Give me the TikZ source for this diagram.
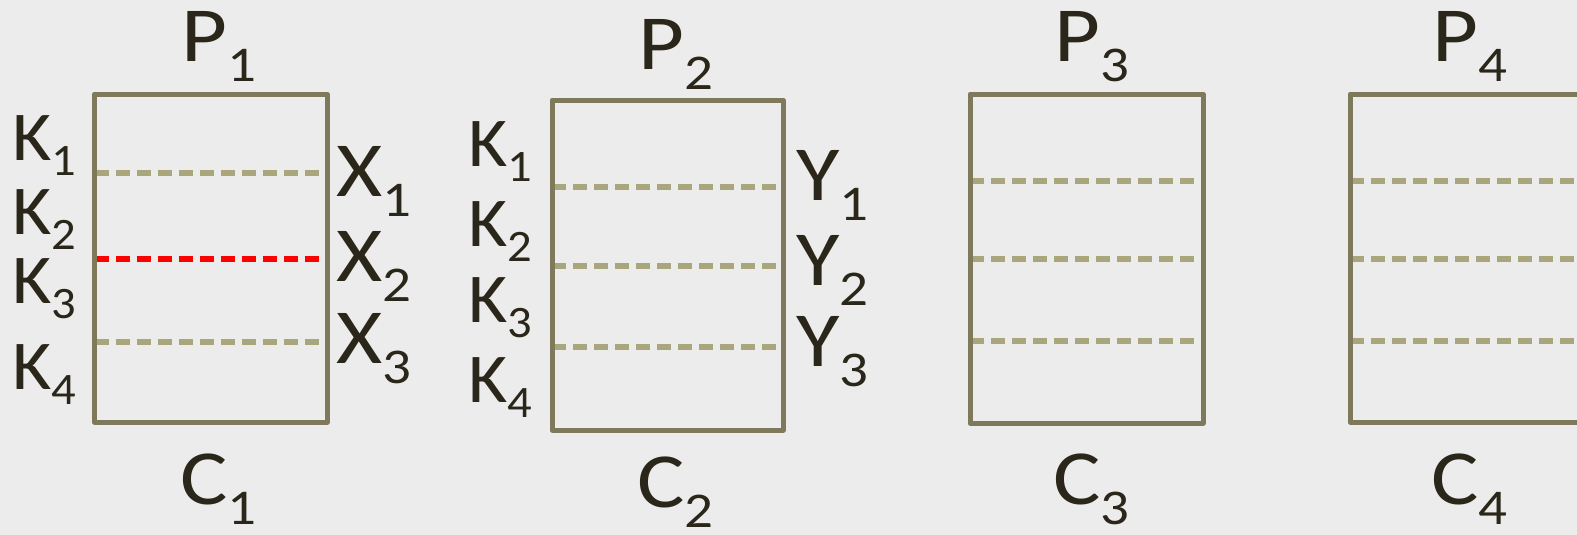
\documentclass[tikz,border=0pt]{standalone}
\usepackage{fontspec}
\usepackage{graphicx}
\setmainfont{Carlito}
\definecolor{bgc}{HTML}{ECECEC}
\definecolor{boxc}{HTML}{7D795A}
\definecolor{dashc}{HTML}{A9A57C}
\definecolor{txtc}{HTML}{2A2619}
\definecolor{redc}{HTML}{FF0000}
\newcommand{\mylab}[2]{\scalebox{1.14}[1]{\fontsize{78}{84}\selectfont #1\raisebox{-20pt}{\fontsize{50}{54}\selectfont #2}}}
\newcommand{\klab}[2]{\scalebox{1.08}[1]{\fontsize{70}{74}\selectfont #1\raisebox{-15pt}{\fontsize{45}{48}\selectfont #2}}}
\tikzset{
  boxst/.style={draw=boxc, line width=5pt, line join=round},
  sepline/.style={draw=dashc, line width=5.5pt, dash pattern=on 14pt off 7pt},
  redline/.style={draw=redc, line width=5.5pt, dash pattern=on 14pt off 7pt},
  lab/.style={inner sep=0pt, anchor=base west, text=txtc},
}
\begin{document}
\begin{tikzpicture}[x=1pt, y=-1pt]
\useasboundingbox (0,0) rectangle (1577,535);
\fill[bgc] (0,0) rectangle (1577,535);
\clip (0,0) rectangle (1577,535);
% boxes
\coordinate (b1a) at (94.5,94); \coordinate (b1b) at (327,422);
\coordinate (b2a) at (552,100); \coordinate (b2b) at (783,430);
\coordinate (b3a) at (970,94); \coordinate (b3b) at (1203,423);
\coordinate (b4a) at (1350,94); \coordinate (b4b) at (1583,422);
% dashed separators
\draw[sepline] (b1a |- 0,173) -- (b1b |- 0,173);
\draw[redline] (b1a |- 0,259) -- (b1b |- 0,259);
\draw[sepline] (b1a |- 0,342) -- (b1b |- 0,342);
\draw[sepline] (b2a |- 0,187) -- (b2b |- 0,187);
\draw[sepline] (b2a |- 0,266) -- (b2b |- 0,266);
\draw[sepline] (b2a |- 0,347) -- (b2b |- 0,347);
\draw[sepline] (b3a |- 0,181) -- (b3b |- 0,181);
\draw[sepline] (b3a |- 0,259) -- (b3b |- 0,259);
\draw[sepline] (b3a |- 0,341) -- (b3b |- 0,341);
\draw[sepline] (b4a |- 0,181) -- (b4b |- 0,181);
\draw[sepline] (b4a |- 0,259) -- (b4b |- 0,259);
\draw[sepline] (b4a |- 0,341) -- (b4b |- 0,341);
\draw[boxst] (b1a) rectangle (b1b);
\draw[boxst] (b2a) rectangle (b2b);
\draw[boxst] (b3a) rectangle (b3b);
\draw[boxst] (b4a) rectangle (b4b);
% top / bottom labels
\node[lab] (p1) at (181,62) {\mylab{P}{1}};
\node[lab] (p2) at (638,70) {\mylab{P}{2}};
\node[lab] (p3) at (1054,62) {\mylab{P}{3}};
\node[lab] (p4) at (1432,62) {\mylab{P}{4}};
\node[lab] (c1) at (180,504) {\mylab{C}{1}};
\node[lab] (c2) at (637,507) {\mylab{C}{2}};
\node[lab] (c3) at (1053,504) {\mylab{C}{3}};
\node[lab] (c4) at (1431,504) {\mylab{C}{4}};
% K labels box 1
\node[lab] (k11) at (12,160) {\klab{K}{1}};
\node[lab] (k12) at (12,234) {\klab{K}{2}};
\node[lab] (k13) at (12,303) {\klab{K}{3}};
\node[lab] (k14) at (12,389) {\klab{K}{4}};
% K labels box 2
\node[lab] (k21) at (468,166) {\klab{K}{1}};
\node[lab] (k22) at (468,246) {\klab{K}{2}};
\node[lab] (k23) at (468,322) {\klab{K}{3}};
\node[lab] (k24) at (468,402) {\klab{K}{4}};
% X labels
\node[lab] (x1) at (336,196) {\mylab{X}{1}};
\node[lab] (x2) at (336,281) {\mylab{X}{2}};
\node[lab] (x3) at (336,363) {\mylab{X}{3}};
% Y labels
\node[lab] (y1) at (796,200) {\mylab{Y}{1}};
\node[lab] (y2) at (796,285) {\mylab{Y}{2}};
\node[lab] (y3) at (796,366) {\mylab{Y}{3}};
\end{tikzpicture}
\end{document}
